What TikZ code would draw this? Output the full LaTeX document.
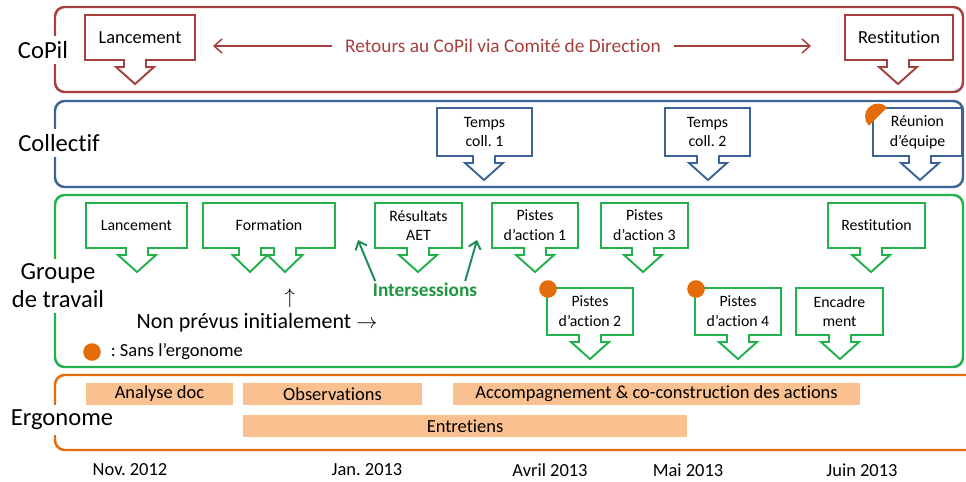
\documentclass[tikz,border=0pt]{standalone}
\usepackage{fontspec}
\setmainfont{Carlito}[Ligatures=NoCommon]
\frenchspacing
\usetikzlibrary{arrows.meta, positioning, calc}
\definecolor{copilred}{HTML}{A5403D}
\definecolor{collblue}{HTML}{3C6496}
\definecolor{gtgreen}{HTML}{22B04B}
\definecolor{intergreen}{HTML}{1E8A55}
\definecolor{ergoorange}{HTML}{E46C0A}
\definecolor{ergofill}{HTML}{FAC090}
% box with a down arrow: name, colour, left, top, right, bottom, arrow x, text
\newcommand{\callout}[8]{%
  \draw[#2, line width=1.1pt, fill=white] (#3,#4) -- (#5,#4) -- (#5,#6) -- (#7+11,#6) -- (#7+11,#6+7) -- (#7+19,#6+7) -- (#7,#6+24) -- (#7-19,#6+7) -- (#7-11,#6+7) -- (#7-11,#6) -- (#3,#6) -- cycle;
  \node[boxtxt] (#1) at ({(#3+#5)/2},{(#4+#6)/2}) {#8};}
% orange bar: name, left, top, right, bottom, text
\newcommand{\ergobar}[6]{%
  \fill[ergofill] (#2,#3) rectangle (#4,#5);
  \node[bartxt] (#1) at ({(#2+#4)/2},{(#3+#5)/2}) {#6};}

\begin{document}
\begin{tikzpicture}[x=0.02cm, y=-0.02cm,
  band/.style={line width=1.4pt, rounded corners=5.5pt},
  rowlabel/.style={fill=white, inner sep=3pt, align=center, font=\fontsize{14}{16}\selectfont},
  boxtxt/.style={align=center, inner sep=0pt, font=\fontsize{9}{11.3}\selectfont},
  bartxt/.style={inner sep=0pt, font=\fontsize{10.5}{12}\selectfont},
  datelbl/.style={font=\fontsize{10.5}{12}\selectfont},
  retxt/.style={text=copilred, inner sep=7.5pt, font=\fontsize{11}{13}\selectfont},
  retarrow/.style={copilred, line width=0.85pt, -{Straight Barb[length=4.5pt, width=8pt]}},
  interarrow/.style={intergreen, line width=1.1pt, -{Straight Barb[length=4pt, width=7pt]}},
  dot/.style={circle, fill=ergoorange, inner sep=0pt, minimum size=10pt}]
\useasboundingbox (0,0) rectangle (966,481);
% CoPil
\draw[band, copilred] (55,7) rectangle (963,92);
\node[rowlabel] (copil) at (43,50) {CoPil};
\callout{copilLanc}{copilred}{85}{15}{195}{60}{135}{\fontsize{10.5}{12}\selectfont Lancement}
\callout{copilRest}{copilred}{845}{15}{953}{60}{898}{\fontsize{10.5}{12}\selectfont Restitution}
\node[retxt] (retours) at (503,46) {Retours au CoPil via Comité de Direction};
\coordinate (retL) at (213,46);
\coordinate (retR) at (811,46);
\draw[retarrow] (retours.west) -- (retL);
\draw[retarrow] (retours.east) -- (retR);
% Collectif
\draw[band, collblue] (55,101) rectangle (963,187);
\node[rowlabel] (collectif) at (59,143) {Collectif};
\callout{temps1}{collblue}{437}{108}{532}{156}{484}{Temps\\coll. 1}
\callout{temps2}{collblue}{665}{108}{750}{156}{708}{Temps\\coll. 2}
\callout{reunion}{collblue}{873}{108}{962}{156}{920}{Réunion\\d’équipe}
\fill[ergoorange] (878,116.5) ++(135:13) arc[start angle=135, end angle=315, radius=13] -- cycle;
% Groupe de travail
\draw[band, gtgreen] (55,195) rectangle (963,367);
\node[rowlabel] (groupe) at (58,286) {Groupe\\de travail};
\callout{gtLanc}{gtgreen}{86}{203}{187}{248}{137}{Lancement}
\draw[gtgreen, line width=1.1pt, fill=white] (203,203) -- (335,203) -- (335,248) -- (296,248) -- (296,255) -- (302.5,255) -- (285,272) -- (267.5,255) -- (274,255) -- (274,248) -- (261,248) -- (261,255) -- (267.5,255) -- (250,272) -- (232.5,255) -- (239,255) -- (239,248) -- (203,248) -- cycle;
\node[boxtxt] (formation) at (269,225.5) {Formation};
\callout{resultats}{gtgreen}{375}{203}{462}{248}{418}{Résultats\\AET}
\callout{pistes1}{gtgreen}{492}{203}{578}{248}{535}{Pistes\\d’action 1}
\callout{pistes3}{gtgreen}{601}{203}{688}{248}{643}{Pistes\\d’action 3}
\callout{gtRest}{gtgreen}{828}{203}{925}{248}{871}{Restitution}
\callout{pistes2}{gtgreen}{547}{288}{633}{335}{590}{Pistes\\d’action 2}
\callout{pistes4}{gtgreen}{695}{288}{781}{335}{738}{Pistes\\d’action 4}
\callout{encadre}{gtgreen}{796}{288}{883}{335}{840}{Encadre\\ment}
\node[dot] (dotA) at (548,289) {};
\node[dot] (dotB) at (696,289) {};
\node[text=gtgreen!85!black, inner sep=1pt, font=\bfseries\fontsize{11}{13}\selectfont] (inter) at (425,290) {Intersessions};
\coordinate (interL) at (358,240);
\coordinate (interR) at (477,240);
\draw[interarrow] ([xshift=2.5pt]inter.north west) -- (interL);
\draw[interarrow] ([xshift=-8pt]inter.north east) -- (interR);
\node[font=\fontsize{12.5}{14}\selectfont] (uparr) at (290,298) {$\uparrow$};
\node[font=\fontsize{12.5}{14}\selectfont] (nonprevus) at (257,323) {Non prévus initialement $\rightarrow$};
\node[dot] (legdot) at (92,352) {};
\node[right=2pt of legdot, font=\fontsize{10.5}{12}\selectfont] (legend) {: Sans l’ergonome};
% Ergonome
\draw[band, ergoorange] (966,375) -- (55,375) -- (55,450) -- (966,450);
\node[rowlabel] (ergonome) at (62,420) {Ergonome};
\ergobar{anadoc}{86}{383}{233}{405}{Analyse doc}
\ergobar{observ}{243}{383}{422}{405}{Observations}
\ergobar{accomp}{453}{383}{860}{405}{Accompagnement \& co-construction des actions}
\ergobar{entret}{243}{415}{687}{437}{Entretiens}
% dates
\node[datelbl] (nov) at (130,470) {Nov. 2012};
\node[datelbl] (jan) at (367,470) {Jan. 2013};
\node[datelbl] (avr) at (550,470) {Avril 2013};
\node[datelbl] (mai) at (688,470) {Mai 2013};
\node[datelbl] (juin) at (862,470) {Juin 2013};
\end{tikzpicture}
\end{document}
